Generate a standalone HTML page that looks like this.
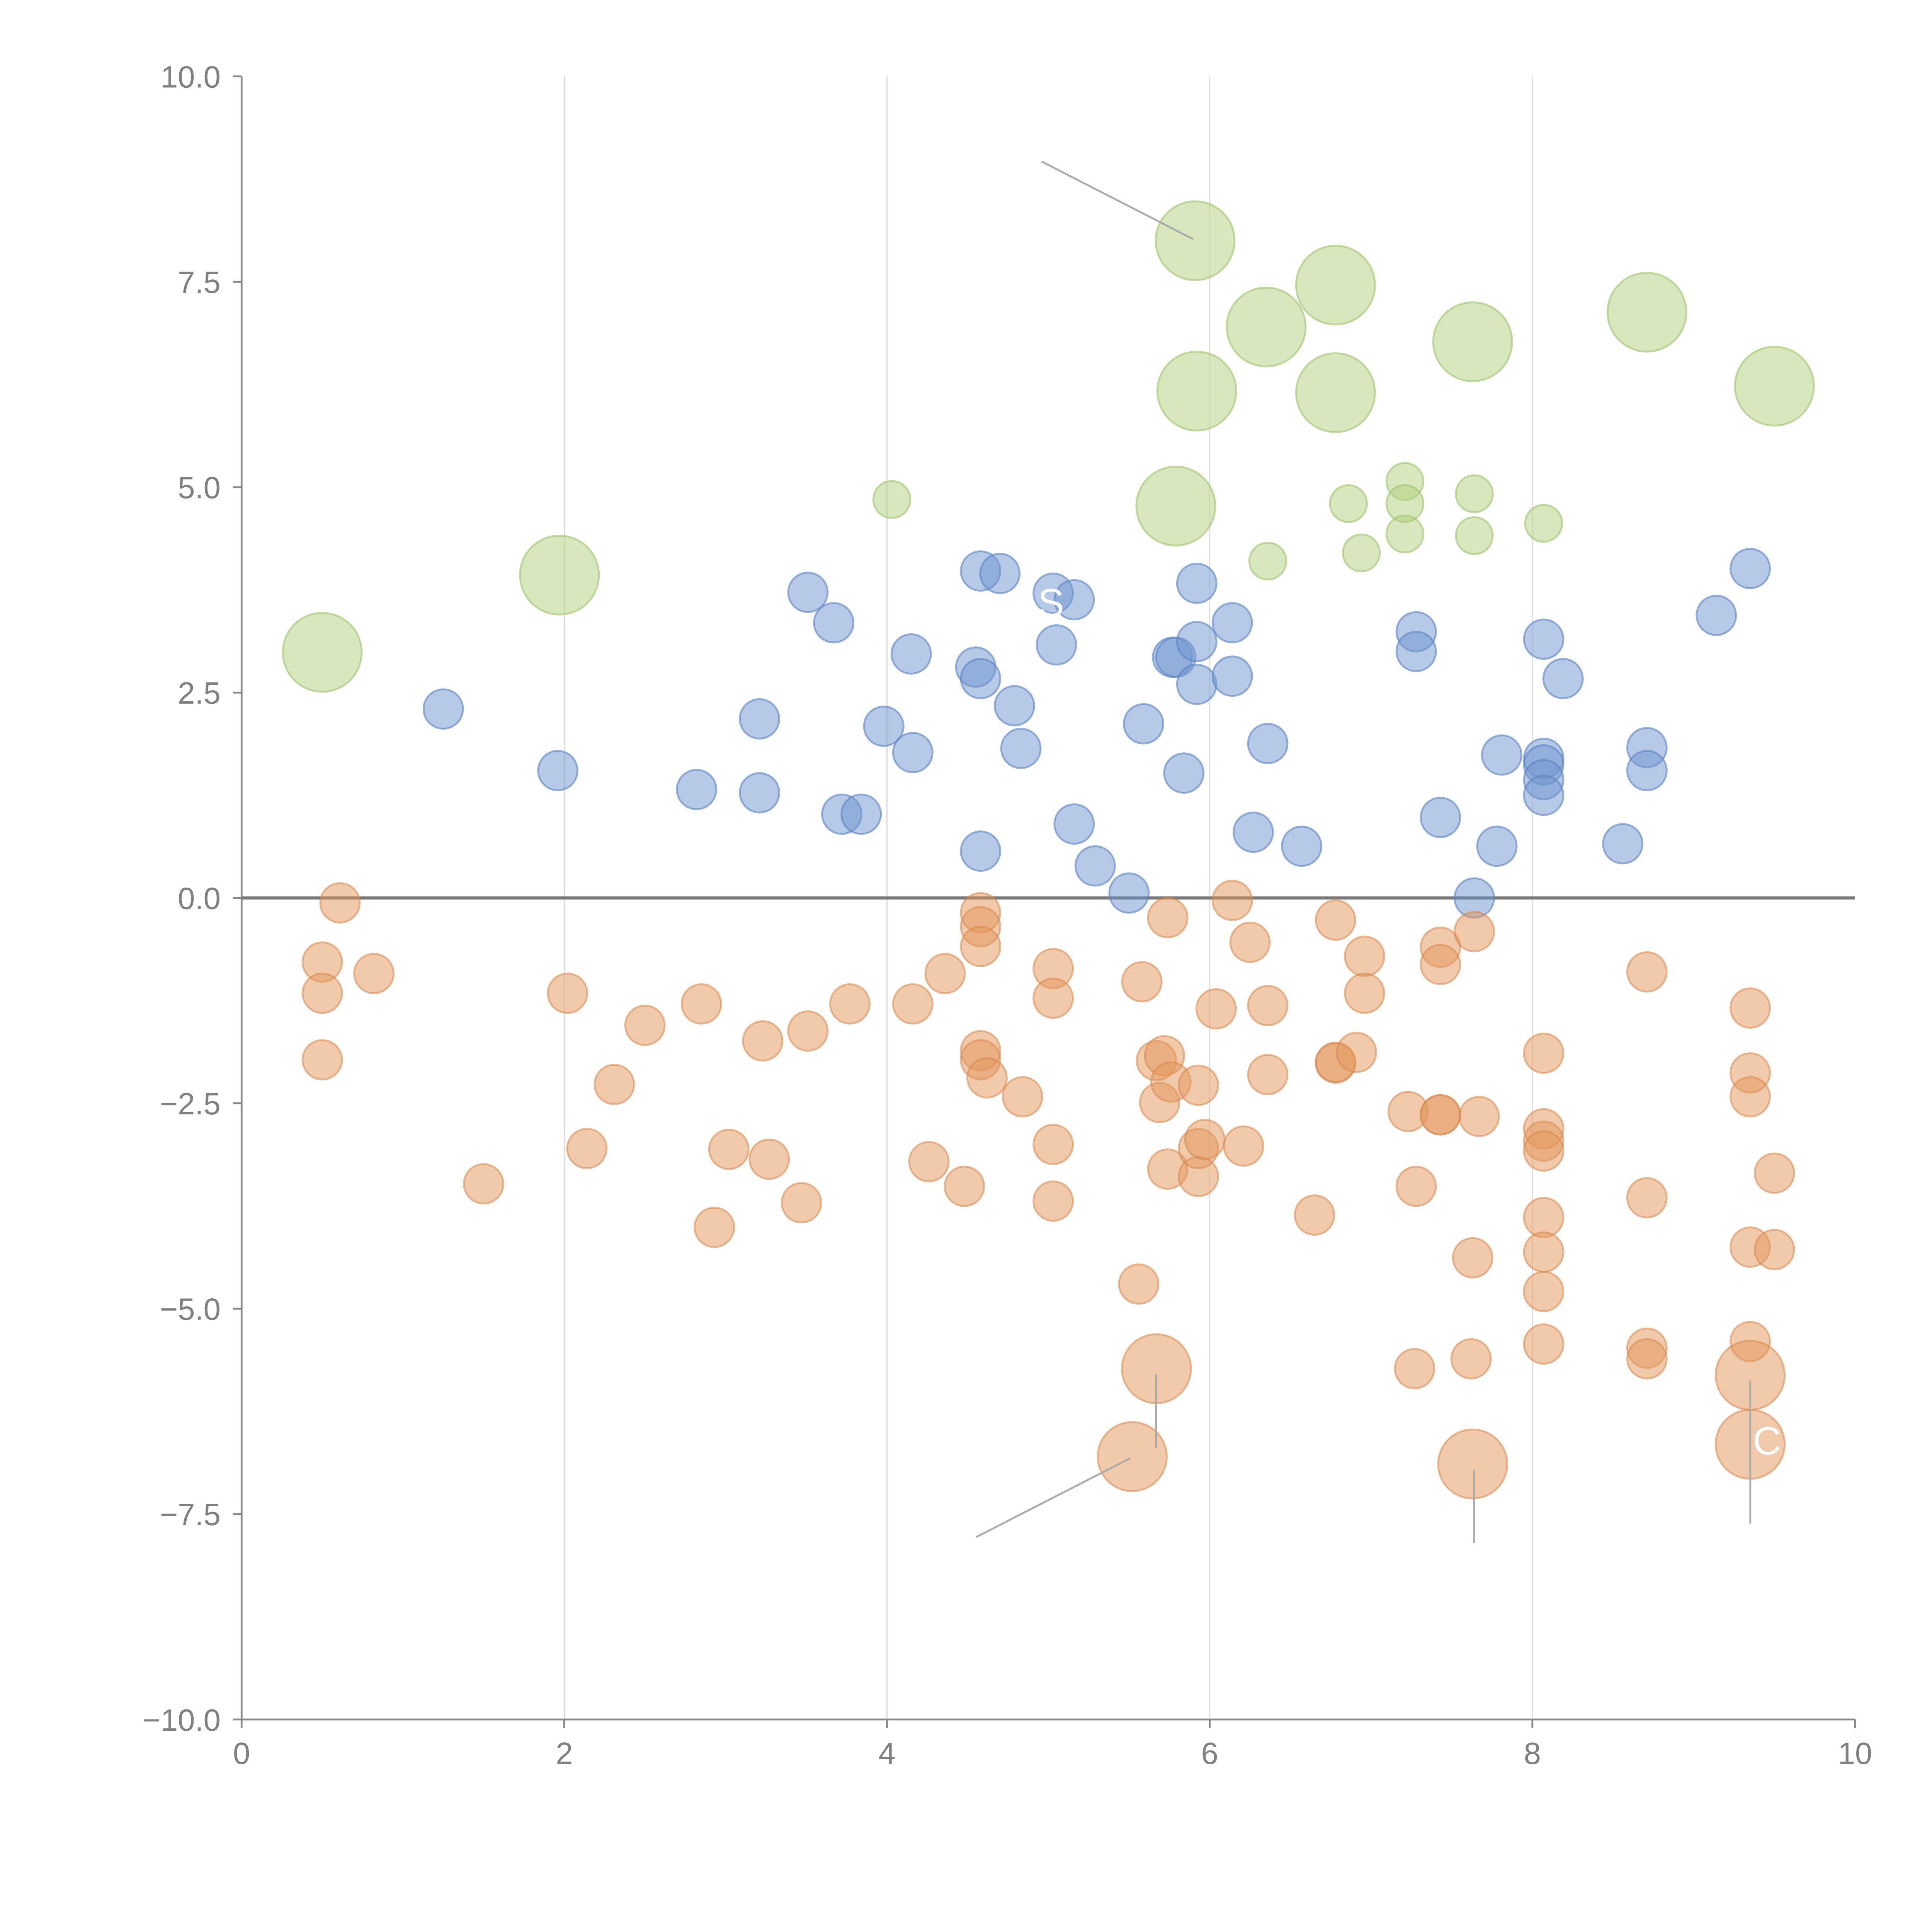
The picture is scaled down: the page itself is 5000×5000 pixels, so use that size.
<!DOCTYPE html>
<html><head><meta charset="utf-8"><style>
html,body{margin:0;padding:0;background:#fff;}
svg{display:block;font-family:"Liberation Sans",sans-serif;}
</style></head>
<body>
<svg id="chart" width="5000" height="5000" viewBox="0 0 1567.4 1567.4" xmlns="http://www.w3.org/2000/svg">
<g id="grid"></g>
<g id="axes"></g>
<g id="marks"></g>
<g id="annot"></g>
</svg>
<script>
const xTicks=[0,2,4,6,8,10];
const yTicks=[-10,-7.5,-5,-2.5,0,2.5,5,7.5,10];
const yTickLabels=["−10.0","−7.5","−5.0","−2.5","0.0","2.5","5.0","7.5","10.0"];
const blueX=[1.25,1.96,2.82,3.21,3.21,3.51,3.67,3.72,3.84,3.98,4.15,4.16,4.55,4.58,4.58,4.58,4.70,4.79,4.83,5.03,5.05,5.16,5.16,5.29,5.50,5.59,5.77,5.79,5.84,5.92,5.92,5.92,6.14,6.14,6.27,6.36,6.57,7.28,7.28,7.43,7.64,7.78,7.81,8.07,8.07,8.07,8.07,8.07,8.19,8.56,8.71,8.71,9.14,9.35];
const blueY=[2.30,1.55,1.32,2.18,1.28,3.72,3.35,1.02,1.02,2.09,2.97,1.77,2.81,3.98,2.67,0.57,3.95,2.34,1.82,3.71,3.08,3.63,0.90,0.39,0.06,2.12,2.93,2.93,1.52,3.83,3.12,2.60,3.35,2.70,0.80,1.88,0.63,3.24,3.00,0.98,0.00,0.63,1.74,3.15,1.70,1.62,1.44,1.25,2.67,0.66,1.83,1.55,3.44,4.01];
const orangeX=[0.61,0.50,0.50,0.50,0.82,1.50,2.02,2.14,2.31,2.50,2.85,2.93,3.02,3.23,3.27,3.47,3.51,3.77,4.16,4.26,4.36,4.48,4.58,4.58,4.58,4.58,4.58,4.62,4.84,5.03,5.03,5.03,5.03,5.56,5.58,5.67,5.69,5.72,5.74,5.74,5.76,5.93,5.93,5.93,5.97,6.04,6.14,6.21,6.25,6.36,6.36,6.65,6.78,6.78,6.78,6.91,6.96,6.96,7.23,7.27,7.28,7.43,7.43,7.43,7.43,7.63,7.62,7.64,7.67,8.07,8.07,8.07,8.07,8.07,8.07,8.07,8.07,8.71,8.71,8.71,8.71,9.35,9.35,9.35,9.35,9.35,9.50,9.50];
const orangeY=[-0.06,-0.78,-1.16,-1.97,-0.92,-3.48,-1.16,-3.05,-2.27,-1.55,-1.29,-4.01,-3.06,-1.74,-3.18,-3.71,-1.62,-1.29,-1.29,-3.21,-0.92,-3.51,-0.18,-0.35,-0.59,-1.86,-1.97,-2.19,-2.42,-0.86,-1.22,-3.00,-3.69,-4.70,-1.02,-1.98,-2.49,-1.92,-0.24,-3.30,-2.24,-2.28,-3.39,-3.05,-2.94,-1.35,-0.03,-3.02,-0.54,-1.31,-2.15,-3.86,-0.27,-2.01,-2.00,-1.88,-0.71,-1.16,-2.60,-5.73,-3.51,-0.60,-0.81,-2.64,-2.64,-4.38,-5.61,-0.41,-2.66,-1.89,-2.81,-2.96,-3.08,-3.89,-4.31,-4.79,-5.43,-0.90,-3.65,-5.48,-5.61,-1.34,-2.13,-2.42,-4.25,-5.40,-3.35,-4.28];
const orangeBigX=[5.67,5.52,7.63,9.35,9.35];
const orangeBigY=[-5.73,-6.80,-6.89,-5.81,-6.65];
const greenBigX=[0.50,1.97,5.91,6.78,6.35,5.92,6.78,7.63,8.71,9.50,5.79];
const greenBigY=[2.99,3.93,8.00,7.46,6.95,6.17,6.15,6.77,7.13,6.23,4.77];
const greenX=[4.03,6.36,6.86,6.94,7.21,7.21,7.21,7.64,7.64,8.07];
const greenY=[4.85,4.10,4.80,4.20,5.07,4.80,4.43,4.92,4.41,4.56];

const NS="http://www.w3.org/2000/svg";
const X0=196,X1=1505,Y0=1395,Y1=62;
const sx=v=>X0+(v-0)/(10-0)*(X1-X0);
const sy=v=>Y0-(v+10)/20*(Y0-Y1);
function mk(tag,parent,attrs){const e=document.createElementNS(NS,tag);for(const k in attrs)e.setAttribute(k,attrs[k]);parent.appendChild(e);return e;}
const grid=document.getElementById('grid'),axes=document.getElementById('axes'),marks=document.getElementById('marks'),annot=document.getElementById('annot');
xTicks.forEach(t=>{
  if(t>0&&t<10){const g=mk('line',grid,{x1:sx(t),x2:sx(t),y1:Y1,y2:Y0,stroke:'#ddd','stroke-width':1});
  
  }
  const tk=mk('line',axes,{x1:sx(t),x2:sx(t),y1:Y0,y2:Y0+7,stroke:'#888','stroke-width':1.5});
  
  
  const tx=mk('text',axes,{x:sx(t),y:Y0+36,'text-anchor':'middle','font-size':25,fill:'#808080'});
  tx.textContent=String(t);
  
  
});
yTicks.forEach((t,i)=>{
  const tk=mk('line',axes,{x1:X0-7,x2:X0,y1:sy(t),y2:sy(t),stroke:'#888','stroke-width':1.5});
  
  
  const tx=mk('text',axes,{x:X0-17,y:sy(t)+9,'text-anchor':'end','font-size':25,fill:'#808080'});
  tx.textContent=yTickLabels[i];
  
  
});
const xa=mk('line',axes,{x1:X0,x2:X1,y1:Y0,y2:Y0,stroke:'#888','stroke-width':1.5});


const ya=mk('line',axes,{x1:X0,x2:X0,y1:Y1,y2:Y0,stroke:'#888','stroke-width':1.5});


const zl=mk('line',axes,{x1:X0,x2:X1,y1:sy(0),y2:sy(0),stroke:'#777','stroke-width':2.5});



function series(xs,ys,r,fill,stroke,name){
  xs.forEach((x,i)=>{
    const c=mk('circle',marks,{cx:sx(x),cy:sy(ys[i]),r:r,fill:fill,stroke:stroke,'stroke-width':1.5});
    
    
  });
}
series(greenBigX,greenBigY,32,'rgba(178,208,125,0.5)','rgba(160,195,105,0.6)','green-bubble-large');
series(greenX,greenY,15,'rgba(178,208,125,0.5)','rgba(160,195,105,0.6)','green-bubble');
series(blueX,blueY,16,'rgba(110,148,205,0.5)','rgba(90,130,195,0.6)','blue-bubble');
series(orangeX,orangeY,16,'rgba(228,150,90,0.5)','rgba(215,135,75,0.55)','orange-bubble');
series(orangeBigX,orangeBigY,28,'rgba(228,150,90,0.5)','rgba(215,135,75,0.55)','orange-bubble-large');

const lines=[[845,131,968,194],[938,1115,938,1175],[792,1247,917,1183],[1196,1193,1196,1252],[1420,1120,1420,1236]];
lines.forEach(l=>{
  const e=mk('line',annot,{x1:l[0],y1:l[1],x2:l[2],y2:l[3],stroke:'#aaa','stroke-width':1.5});
  
  
});
const t1=mk('text',annot,{x:842,y:500,'font-size':32,fill:'#fff'});t1.textContent='S';


const t2=mk('text',annot,{x:1422,y:1180,'font-size':32,fill:'#fff'});t2.textContent='C';


</script>
</body></html>
